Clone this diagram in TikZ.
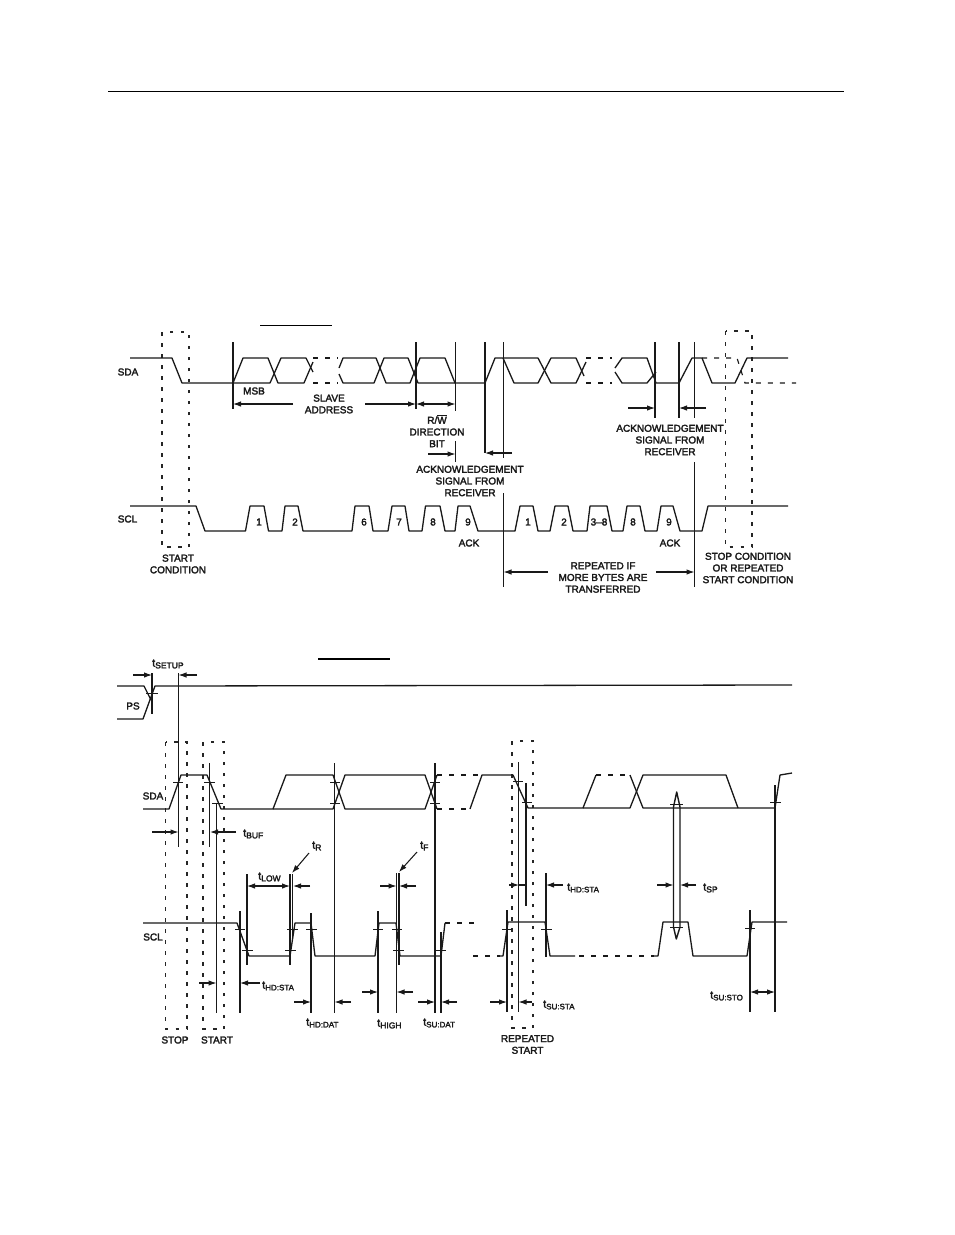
\documentclass[tikz,border=0pt]{standalone}
\usepackage{fontspec}
\setmainfont{Liberation Sans}[FakeBold=2.6]
\usetikzlibrary{arrows.meta}
\newcommand{\tlab}[4]{\node[lab,anchor=west] (#1) at (#2) {\fontsize{11}{12}\selectfont t\raisebox{-1.7pt}{\fontsize{#4}{9}\selectfont #3}};}
\tikzset{
  x=1pt,y=-1pt,
  sig/.style={line width=1.3pt,line join=round,color=black!90},
  dsh/.style={line width=1.15pt,dash pattern=on 5pt off 7pt,color=black!90},
  vl/.style={line width=1.4pt,color=black!90},
  tk/.style={line width=0.95pt,color=black!90},
  box/.style={line width=1.15pt,dash pattern=on 3.5pt off 7.5pt,color=black!85},
  arr/.style={line width=1.05pt,color=black!90,-{Latex[length=8pt,width=5.5pt]}},
  darr/.style={line width=1.05pt,color=black!90,{Latex[length=8pt,width=5.5pt]}-{Latex[length=8pt,width=5.5pt]}},
  lab/.style={inner sep=0pt,align=center,font=\fontsize{10}{11.7}\selectfont,color=black!90},
}
\begin{document}
\begin{tikzpicture}
\useasboundingbox (0,0) rectangle (954,1235);
\fill[white] (0,0) rectangle (954,1235);
% rules
\draw[line width=1pt] (108,91) -- (844,91);
\draw[line width=1.8pt] (260,325.5) -- (332,325.5);
\draw[line width=1.8pt] (318,659) -- (390,659);

%%%% FIGURE 1
% boxes
\draw[box] (162,332) rectangle (189,547);
\draw[box] (725.5,331) rectangle (752,547);
% SDA
\draw[sig] (130,358) -- (172,358) -- (182,383) -- (270,383) -- (281,358) -- (306,358) -- (313,372);
\draw[sig] (233,383) -- (243,358) -- (268,358) -- (278,383) -- (304,383) -- (313,362);
\draw[dsh] (313,358) -- (338,358) (313,383) -- (338,383);
\draw[sig] (339,368) -- (343,358) -- (376,358) -- (386,383) -- (410,383) -- (420,358) -- (445,358) -- (455,383) -- (485,383) -- (495,358) -- (503,358) -- (514,383) -- (538,383) -- (551,358) -- (576,358) -- (584,376);
\draw[sig] (339,374) -- (343,383) -- (374,383) -- (384,358) -- (408,358) -- (418,383) -- (455,383);
\draw[sig] (503,358) -- (538,358) -- (551,383) -- (576,383) -- (586,362);
\draw[dsh] (586,358) -- (612,358) (586,383) -- (612,383);
\draw[sig] (615,368) -- (622,358) -- (647,358) -- (656,383) -- (679,383) -- (692,358) -- (702,358) -- (712,383) -- (735,383) -- (747,358) -- (788,358);
\draw[sig] (615,372) -- (622,383) -- (647,383) -- (656,372);
\draw[dsh] (702,358) -- (737,358) -- (745,383) -- (796,383);
% SCL
\draw[sig] (130,506) -- (196,506) -- (205,531) -- (245.5,531) -- (250,506) -- (264,506) -- (268.5,531) -- (282,531) -- (285,506) -- (298,506) -- (303,531) -- (352,531) -- (355,506) -- (369,506) -- (373,531) -- (388,531) -- (392,506) -- (405,506) -- (409,531) -- (422,531) -- (425.5,506) -- (440,506) -- (445,531) -- (455,531) -- (458,506) -- (470,506) -- (478,531) -- (515,531) -- (520,506) -- (533,506) -- (538,531) -- (550,531) -- (555,506) -- (568,506) -- (573,531) -- (587,531) -- (590,506) -- (607,506) -- (612,531) -- (623,531) -- (627,506) -- (640,506) -- (645,531) -- (657,531) -- (661,506) -- (673,506) -- (680,531) -- (702,531) -- (708,506) -- (788,506);
% verticals
\draw[vl] (233,342) -- (233,409);
\draw[vl] (416,342) -- (416,409);
\draw[vl] (455.5,342) -- (455.5,411) (455.5,441) -- (455.5,462);
\draw[vl] (485,342) -- (485,453);
\draw[vl] (503.5,342) -- (503.5,458) (503.5,493) -- (503.5,587);
\draw[vl] (655,342) -- (655,418);
\draw[vl] (679,342) -- (679,418);
\draw[vl] (694.5,342) -- (694.5,418) (694.5,462) -- (694.5,587);
% arrows
\draw[arr] (293,404) -- (233,404);
\draw[arr] (365,404) -- (416,404);
\draw[darr] (416,404) -- (455.5,404);
\draw[arr] (428,454) -- (455.5,454);
\draw[arr] (512,453) -- (485,453);
\draw[arr] (628,408) -- (655,408);
\draw[arr] (706,408) -- (679,408);
\draw[arr] (548,572) -- (503.5,572);
\draw[arr] (656,572) -- (694.5,572);
% labels
\node[lab] (a1) at (128,372) {SDA};
\node[lab] (a2) at (127.5,519) {SCL};
\node[lab] (a3) at (254,391) {MSB};
\node[lab] (a4) at (329,404) {SLAVE\\ADDRESS};
\node[lab] (a5) at (437,431) {R/$\overline{\mbox{W}}$\\DIRECTION\\BIT};
\node[lab] (a6) at (470,481) {ACKNOWLEDGEMENT\\SIGNAL FROM\\RECEIVER};
\node[lab] (a7) at (670,440) {ACKNOWLEDGEMENT\\SIGNAL FROM\\RECEIVER};
\node[lab] (a8) at (178,564) {START\\CONDITION};
\node[lab] (a9) at (603,577.5) {REPEATED IF\\MORE BYTES ARE\\TRANSFERRED};
\node[lab] (a10) at (748,568) {STOP CONDITION\\OR REPEATED\\START CONDITION};
\node[lab] (a11) at (469,543) {ACK};
\node[lab] (a12) at (670,543) {ACK};
\node[lab] (n1) at (259,522) {1};
\node[lab] (n2) at (295,522) {2};
\node[lab] (n3) at (364,522) {6};
\node[lab] (n4) at (399,522) {7};
\node[lab] (n5) at (433,522) {8};
\node[lab] (n6) at (468,522) {9};
\node[lab] (n7) at (528,522) {1};
\node[lab] (n8) at (564,522) {2};
\node[lab] (n9) at (599,522) {3–8};
\node[lab] (n10) at (633,522) {8};
\node[lab] (n11) at (669,522) {9};

%%%% FIGURE 2
% boxes
\draw[box] (165.5,742) rectangle (187,1029);
\draw[box] (203,742) rectangle (224,1029);
\draw[box] (512,741) rectangle (533,1028);
% PS
\draw[sig] (117,686) -- (144,686) -- (151,700);
\draw[sig] (117,719) -- (143,719) -- (155,686) -- (792,685);
\draw[tk] (146,693) -- (158,693);
\draw[vl] (152,673) -- (152,714);
\draw[arr] (133,675) -- (152,675);
\draw[arr] (197,675) -- (178.5,675);
\node[lab] (ps) at (133,706) {PS};
\tlab{ts}{152,664}{SETUP}{8.5}
% SDA
\draw[sig] (143,809) -- (169,809) -- (181,775) -- (207,775) -- (221,809) -- (273,809) -- (286,775) -- (333,775) -- (345,809) -- (425,809) -- (437,775);
\draw[sig] (273,809) -- (333,809) -- (345,775) -- (425,775) -- (437,809);
\draw[dsh] (437,775) -- (481,775);
\draw[dsh] (437,809) -- (470,809);
\draw[sig] (470,809) -- (482,775) -- (513,775) -- (528,808) -- (583,808) -- (596,775);
\draw[dsh] (596,775) -- (630,775);
\draw[sig] (630,775) -- (643,808) -- (775,808) -- (780,775) -- (792,773);
\draw[sig] (583,808) -- (630,808) -- (643,775) -- (726,775) -- (738,808);
% SCL
\draw[sig] (143,923) -- (237,923) -- (249,956) -- (290,956) -- (295,923) -- (311,923) -- (315,956) -- (375,956) -- (379,923) -- (396,923) -- (400,956) -- (441,956) -- (445,923);
\draw[dsh] (445,923) -- (477,923);
\draw[dsh] (473,956) -- (500,956);
\draw[sig] (500,956) -- (503,956) -- (508,922) -- (545,922) -- (550,956) -- (575,956);
\draw[dsh] (579,956) -- (654,956);
\draw[sig] (654,956) -- (658,956) -- (663,922) -- (688,922) -- (693,956) -- (747,956) -- (752,922) -- (787,922);
% verticals with ticks
\draw[vl] (178.5,673) -- (178.5,847);
\draw[tk] (173,782) -- (183,782);
\draw[vl] (209.7,763) -- (209.7,847);
\draw[tk] (204,782) -- (215,782);
\draw[vl] (216.5,803) -- (216.5,1013);
\draw[tk] (212,803) -- (223,803);
\draw[vl] (334.5,763) -- (334.5,1013);
\draw[tk] (330,782) -- (340,782) (330,803) -- (340,803);
\draw[vl] (435,763) -- (435,1013);
\draw[tk] (430,782) -- (440,782) (430,803) -- (440,803);
\draw[vl] (240,911) -- (240,1013);
\draw[tk] (235,929) -- (245,929);
\draw[vl] (247,874) -- (247,965);
\draw[tk] (242,950) -- (253,950);
\draw[vl] (290,874) -- (290,965);
\draw[tk] (285,950) -- (296,950);
\draw[vl] (292.5,874) -- (292.5,940);
\draw[tk] (287,929) -- (298,929);
\draw[vl] (311,913) -- (311,1013);
\draw[tk] (306,929) -- (317,929);
\draw[vl] (378,911) -- (378,1013);
\draw[tk] (373,929) -- (383,929);
\draw[vl] (396.5,873) -- (396.5,1013);
\draw[vl] (399,873) -- (399,965);
\draw[tk] (392,929) -- (402,929) (393,950) -- (404,950);
\draw[vl] (441,932) -- (441,1013);
\draw[tk] (436,950) -- (446,950);
\draw[vl] (518.5,762) -- (518.5,1012);
\draw[vl] (526,783) -- (526,906);
\draw[tk] (513,781) -- (523,781) (522,802) -- (532,802);
\draw[vl] (546,873) -- (546,957);
\draw[tk] (541,929) -- (552,929);
\draw[vl] (507,910) -- (507,1012);
\draw[tk] (502,929) -- (512,929);
\draw[vl] (750,910) -- (750,1012);
\draw[tk] (745,928) -- (755,928);
\draw[vl] (775,785) -- (775,1012);
\draw[tk] (770,802) -- (781,802);
% spike pulse
\draw[vl,line join=round] (673.5,927) -- (673.5,807) -- (676.7,792) -- (680,807) -- (680,927) -- (676.3,939) -- cycle;
\draw[tk] (670,804) -- (683,804) (670,927) -- (683,927);
% arrows
\draw[arr] (152,832) -- (178.5,832);
\draw[arr] (236,832) -- (210,832);
\draw[arr] (309,853) -- (292,873);
\draw[arr] (417,852) -- (399,872);
\draw[darr] (247,886) -- (290,886);
\draw[arr] (310,886) -- (293,886);
\draw[arr] (380,886) -- (396.5,886);
\draw[arr] (416,886) -- (399,886);
\draw[arr] (199,983) -- (216.5,983);
\draw[arr] (260,983) -- (240,983);
\draw[arr] (294,1002) -- (311,1002);
\draw[arr] (351,1002) -- (334.5,1002);
\draw[arr] (362,992) -- (378,992);
\draw[arr] (413,992) -- (396.5,992);
\draw[arr] (418,1002) -- (435,1002);
\draw[arr] (457,1002) -- (441,1002);
\draw[arr] (509,885) -- (519,885);
\draw[vl] (519,885) -- (526,885);
\draw[arr] (563,885) -- (546,885);
\draw[arr] (657,885) -- (673.5,885);
\draw[arr] (696,885) -- (680,885);
\draw[darr] (750,992) -- (775,992);
\draw[arr] (490,1002) -- (507,1002);
\draw[arr] (532,1002) -- (518.5,1002);
% labels
\node[lab] (b1) at (153,796) {SDA};
\node[lab] (b2) at (153,937) {SCL};
\node[lab] (b3) at (175,1040) {STOP};
\node[lab] (b4) at (217,1040) {START};
\node[lab] (b5) at (527.5,1044.5) {REPEATED\\START};
\tlab{t1}{243,834}{BUF}{8.5}
\tlab{t2}{312,846}{R}{8.5}
\tlab{t3}{420,846}{F}{8.5}
\tlab{t4}{258,877}{LOW}{8.5}
\tlab{t5}{262,986}{HD:STA}{8}
\tlab{t6}{306,1023}{HD:DAT}{8}
\tlab{t7}{377,1024}{HIGH}{8.5}
\tlab{t8}{423,1023}{SU:DAT}{8}
\tlab{t9}{567,888}{HD:STA}{8}
\tlab{t10}{703,888}{SP}{8.5}
\tlab{t11}{710,996}{SU:STO}{8}
\tlab{t12}{543,1005}{SU:STA}{8}
\end{tikzpicture}
\end{document}
